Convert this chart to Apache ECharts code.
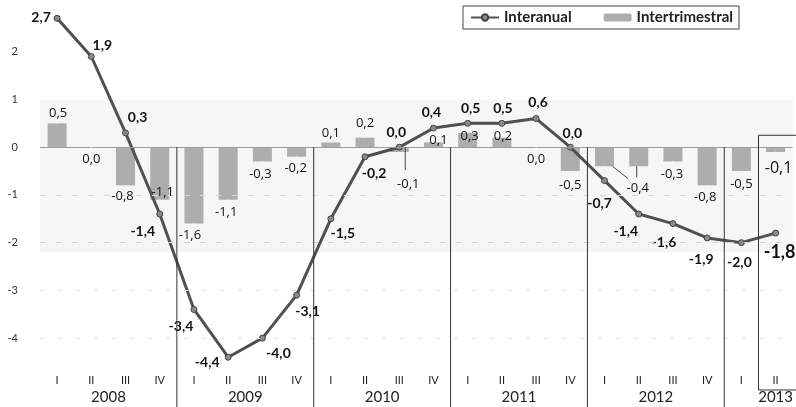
<!DOCTYPE html>
<html><head><meta charset="utf-8">
<script src="https://cdn.jsdelivr.net/npm/echarts@6/dist/echarts.min.js"></script>
<style>html,body{margin:0;padding:0;background:#fff}#c{width:796px;height:407px}</style>
</head><body><div id="c"></div>
<script>
const quarters = ['I','II','III','IV','I','II','III','IV','I','II','III','IV','I','II','III','IV','I','II','III','IV','I','II'];
const years = ['2008','2009','2010','2011','2012','2013'];
const interanual = [2.7,1.9,0.3,-1.4,-3.4,-4.4,-4.0,-3.1,-1.5,-0.2,0.0,0.4,0.5,0.5,0.6,0.0,-0.7,-1.4,-1.6,-1.9,-2.0,-1.8];
const intertrimestral = [0.5,0.0,-0.8,-1.1,-1.6,-1.1,-0.3,-0.2,0.1,0.2,-0.1,0.1,0.3,0.2,0.0,-0.5,-0.4,-0.4,-0.3,-0.8,-0.5,-0.1];
const yTicks = [-4,-3,-2,-1,0,1,2];

// layout (label offsets in px, not data)
const lineOff = [[-16,-1],[11,-11],[12,-15],[-17,17],[-13,17],[-21,5],[16,15],[11,16],[12,15],[9,17],[-3,-15],[-2,-16],[3,-15],[1,-15],[2,-16],[2,-14],[-5,23],[-13,17],[-9,19],[-6,22],[-2,20],[4,19]];
const barOff = [[1,-10],[0,12],[-3,11],[3,-7],[-4,12],[-2,13],[-2,13],[-1,12],[0,-9],[0,-14],[9,32],[5,-2],[2,3],[1,-1],[0,12],[0,14],null,[-1,22],[-1,13],[-2,12],[0,13],[3,16]];
const yearLabelAt = [1.5,5.5,9.5,13.5,17.5,21];
const yearBounds = [3.5,7.5,11.5,15.5,19.5];

const FONT = 'Lato';
const FONT2 = 'Open Sans';
const fmt = v => v.toFixed(1).replace('.', ',');
const last = interanual.length - 1;

const chart = echarts.init(document.getElementById('c'), null, {renderer:'canvas'});
chart.setOption({
  animation: false,
  textStyle: {fontFamily: FONT},
  grid: {left: 40, right: 0, top: 4, bottom: 45},
  legend: {
    data: ['Interanual','Intertrimestral'],
    right: 57, top: 6, orient: 'horizontal',
    borderColor: '#444', borderWidth: 1, padding: [4, 6, 4, 7],
    itemGap: 32, itemWidth: 28, itemHeight: 8,
    textStyle: {fontFamily: FONT, fontSize: 15, fontWeight: 'bold', color: '#222'}
  },
  xAxis: [{
    type: 'category', data: quarters, position: 'bottom',
    axisLine: {show: false}, axisTick: {show: false}, splitLine: {show: false},
    axisLabel: {fontSize: 11, color: '#222', margin: 13, interval: 0, fontFamily: FONT}
  }, {
    type: 'value', min: -0.5, max: 21.5, position: 'bottom',
    axisLine: {show: false}, axisTick: {show: false}, splitLine: {show: false},
    axisLabel: {customValues: yearLabelAt, formatter: v => years[yearLabelAt.indexOf(v)] || '',
      fontSize: 15, color: '#222', margin: 28}
  }],
  yAxis: {
    type: 'value', min: -4.5, max: 3,
    axisLine: {show: false}, axisTick: {show: false}, splitLine: {show: false},
    axisLabel: {customValues: yTicks, fontSize: 11, color: '#333', margin: 22}
  },
  series: [{
    name: 'Intertrimestral', type: 'bar', data: intertrimestral, barWidth: 19, z: 2,
    itemStyle: {color: '#adadad'},
    markArea: {silent: true, itemStyle: {color: 'rgba(0,0,0,0.035)'}, data: [[{yAxis: 1.0}, {yAxis: -2.2}]]},
    markLine: {silent: true, symbol: 'none', label: {show: false},
      data: [
        {yAxis: 0, lineStyle: {color: '#9a9a9a', width: 1.2, type: 'solid'}},
        {yAxis: -1, lineStyle: {color: '#d8d8d8', width: 1, type: [6,10]}},
        {yAxis: -2, lineStyle: {color: '#d0d0d0', width: 1, type: [6,10]}},
        {yAxis: -3, lineStyle: {color: '#e0e0e0', width: 1, type: [4,14]}},
        {yAxis: -4, lineStyle: {color: '#e0e0e0', width: 1, type: [4,14]}}
      ]}
  }, {
    name: 'Interanual', type: 'line', z: 4, data: interanual.map((v, i) => ({
      value: v,
      label: {offset: lineOff[i], fontSize: i === last ? 18 : 14}
    })),
    symbol: 'circle', symbolSize: 6,
    lineStyle: {color: '#505050', width: 3},
    itemStyle: {color: '#8a8a8a', borderColor: '#444', borderWidth: 1},
    label: {show: true, position: 'inside', formatter: p => fmt(p.value), color: '#111',
      fontWeight: 'bold', fontSize: 14, fontFamily: FONT}
  }, {
    name: 'lbl', type: 'scatter', z: 5, symbolSize: 1, silent: true,
    itemStyle: {color: '#ffffff', opacity: 1},
    data: intertrimestral.map((v, i) => ({
      value: v,
      label: barOff[i] ? {show: true, offset: barOff[i], fontSize: i === last ? 16 : 13} : {show: false}
    })),
    label: {show: true, position: 'inside', formatter: p => fmt(p.value), color: '#111',
      opacity: 1, textBorderWidth: 0, fontSize: 13, fontFamily: FONT2}
  }]
});

const px = v => chart.convertToPixel({xAxisIndex: 1}, v);
const py = v => chart.convertToPixel({yAxisIndex: 0}, v);
const y0 = py(0);
const graphics = yearBounds.map(b => ({
  type: 'line', silent: true, z: 10,
  shape: {x1: px(b), y1: y0, x2: px(b), y2: 407},
  style: {stroke: '#333', lineWidth: 1}
}));
graphics.push({
  type: 'rect', silent: true, z: 10,
  shape: {x: px(20.5), y: py(0.25), width: 800 - px(20.5), height: 390 - py(0.25)},
  style: {fill: null, stroke: '#333', lineWidth: 1}
});
// leader lines for bar labels
const lead = (x1, y1, x2, y2) => ({type: 'line', silent: true, z: 10,
  shape: {x1, y1, x2, y2}, style: {stroke: '#444', lineWidth: 1}});
graphics.push(lead(px(10) + 6, py(0), px(10) + 6, py(-0.1) + 18));
graphics.push(lead(px(16) + 8, py(-0.4), px(17) - 11, py(-0.4) + 12));
graphics.push(lead(px(17) - 2, py(-0.4), px(17) - 2, py(-0.4) + 11));
chart.setOption({graphic: graphics});
</script></body></html>
